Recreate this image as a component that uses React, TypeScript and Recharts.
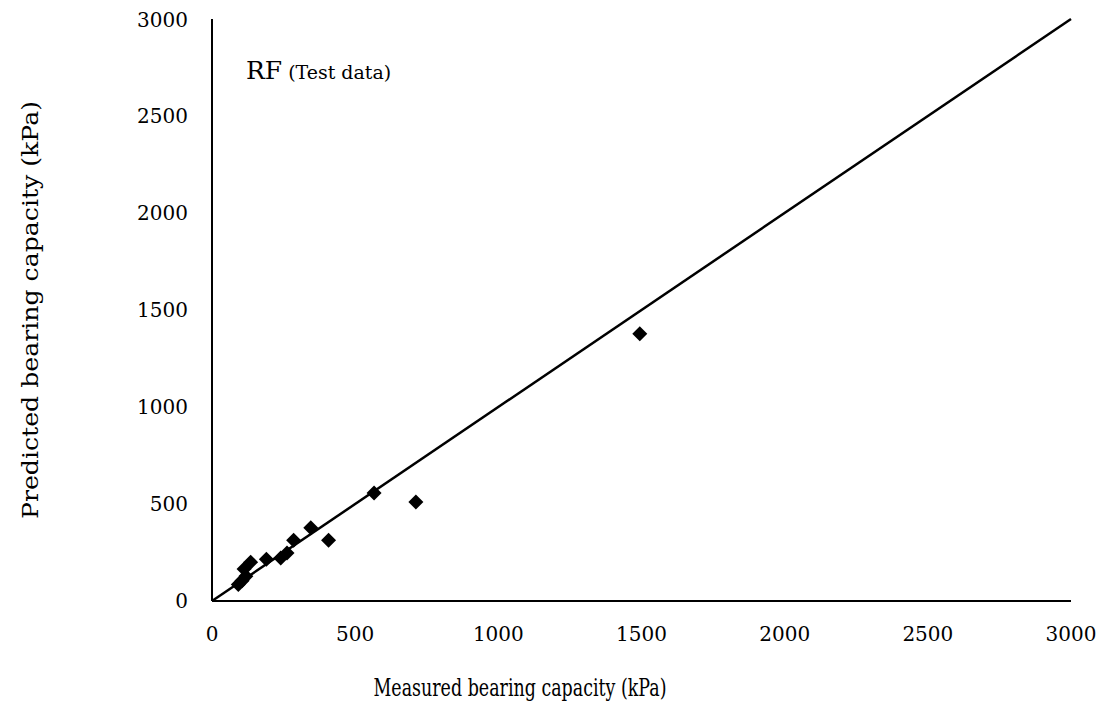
import React from "react";
import { ScatterChart, Scatter, XAxis, YAxis, ReferenceLine } from "recharts";

const measured = [92, 105, 118, 112, 135, 190, 240, 262, 285, 345, 407, 566, 712, 1494];
const predicted = [85, 105, 128, 165, 200, 215, 222, 248, 313, 378, 313, 557, 510, 1377];
const axisTicks = [0, 500, 1000, 1500, 2000, 2500, 3000];
const lineEnds = [0, 3000];
const xTitle = "Measured bearing capacity (kPa)";
const yTitle = "Predicted bearing capacity (kPa)";
const modelName = "RF";
const subset = "(Test data)";

const points = measured.map((m, i) => ({ x: m, y: predicted[i] }));

const FONT = "'DejaVu Serif', 'Liberation Serif', serif";

const Diamond = (props: any) => {
  const { cx, cy } = props;
  const r = 7.5;
  return (
    <path
      d={`M${cx},${cy - r}L${cx + r},${cy}L${cx},${cy + r}L${cx - r},${cy}Z`}
      fill="#000"
    />
  );
};

export default function App() {
  return (
    <ScatterChart
      width={1100}
      height={697}
      margin={{ top: 11, right: 37, left: 0, bottom: 44 }}
    >
      <XAxis
        type="number"
        dataKey="x"
        domain={[0, 3000]}
        ticks={axisTicks}
        allowDataOverflow
        axisLine={{ stroke: "#000", strokeWidth: 2 }}
        tickLine={false}
        tickSize={0}
        tickMargin={26}
        height={60}
        tick={{ fill: "#000", fontSize: 20, fontFamily: FONT }}
        label={{
          content: () => (
            <text
              x={512}
              y={688}
              textAnchor="middle"
              fontSize={24}
              fontFamily={FONT}
              fill="#000"
              textLength={293}
              lengthAdjust="spacingAndGlyphs"
            >
              {xTitle}
            </text>
          ),
        }}
      />
      <YAxis
        type="number"
        dataKey="y"
        domain={[0, 3000]}
        ticks={axisTicks}
        allowDataOverflow
        width={204}
        axisLine={{ stroke: "#000", strokeWidth: 2 }}
        tickLine={false}
        tickSize={0}
        tickMargin={24}
        tick={{ fill: "#000", fontSize: 20, fontFamily: FONT }}
        label={{
          content: () => (
            <g>
              <text
                x={22}
                y={302}
                transform="rotate(-90 22 302)"
                textAnchor="middle"
                dominantBaseline="central"
                fontSize={23}
                fontFamily={FONT}
                fill="#000"
                textLength={418}
                lengthAdjust="spacingAndGlyphs"
              >
                {yTitle}
              </text>
              <text x={238} y={71} fontFamily={FONT} fill="#000">
                <tspan fontSize={25}>{modelName}</tspan>
                <tspan fontSize={19} dx={6} textLength={103} lengthAdjust="spacingAndGlyphs">{subset}</tspan>
              </text>
            </g>
          ),
        }}
      />
      <ReferenceLine
        segment={[
          { x: lineEnds[0], y: lineEnds[0] },
          { x: lineEnds[1], y: lineEnds[1] },
        ]}
        stroke="#000"
        strokeWidth={2.5}
        ifOverflow="visible"
      />
      <Scatter
        data={points}
        shape={<Diamond />}
        isAnimationActive={false}
      />
    </ScatterChart>
  );
}
